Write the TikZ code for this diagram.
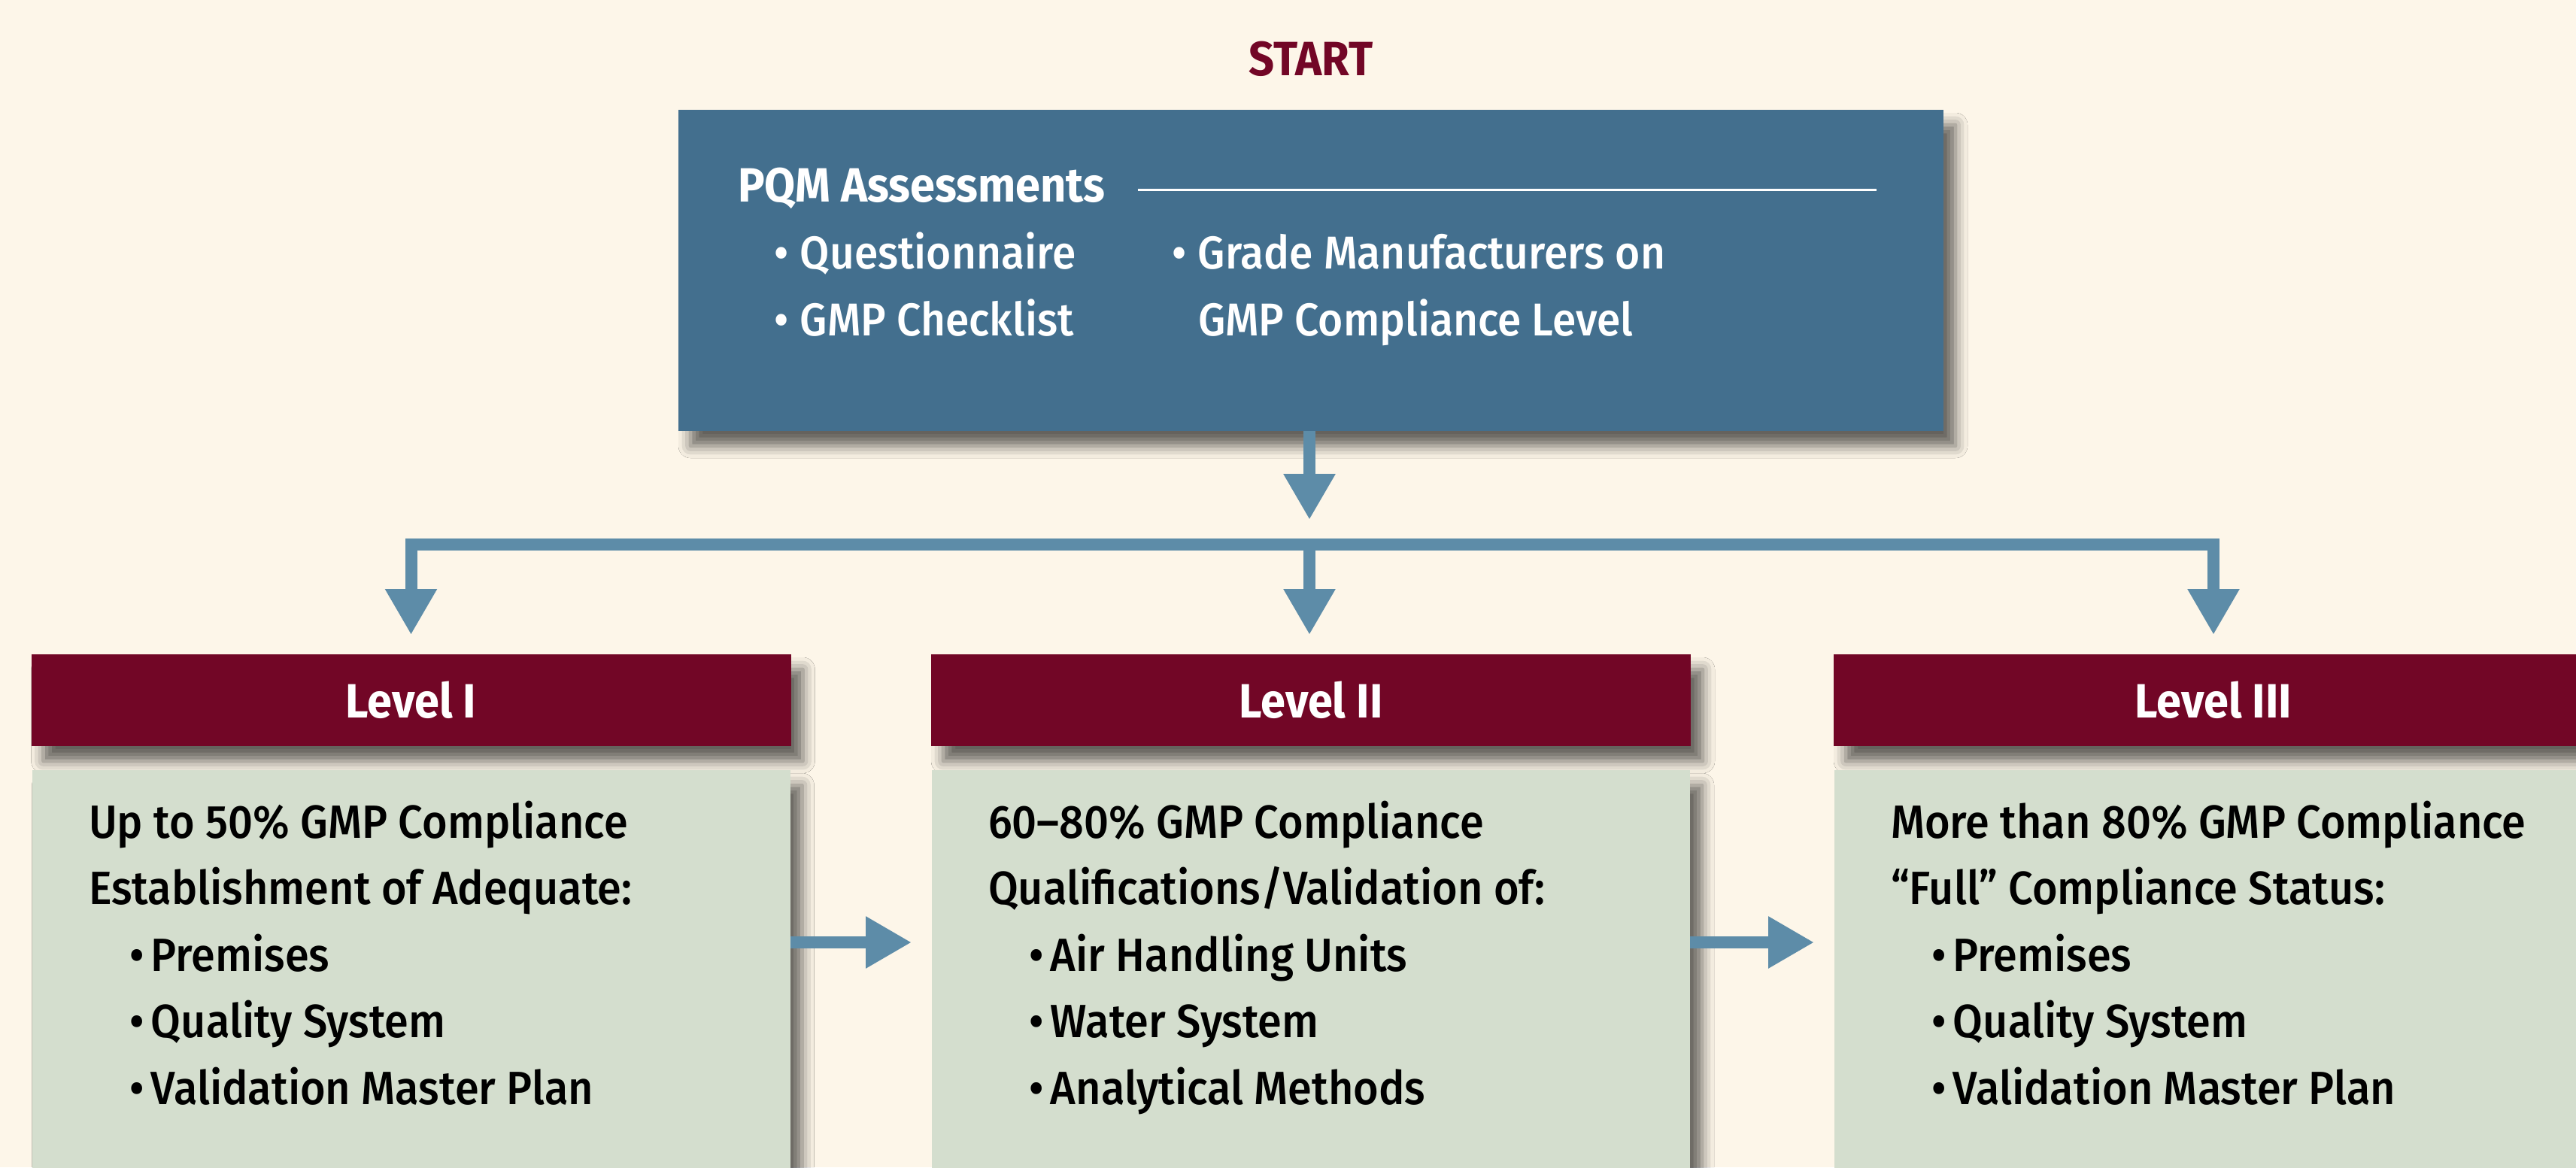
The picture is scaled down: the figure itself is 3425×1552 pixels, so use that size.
\documentclass[tikz,border=0pt]{standalone}
\usepackage{fontspec}
\setmainfont{Fira Sans}[FakeStretch=0.93, UprightFont={Fira Sans Medium}, BoldFont={Fira Sans Bold}]
\usetikzlibrary{arrows.meta,positioning,shadows.blur}
\definecolor{cream}{HTML}{FDF6E9}
\definecolor{steel}{HTML}{436F8E}
\definecolor{maroon}{HTML}{720626}
\definecolor{sage}{HTML}{D4DECE}
\definecolor{arrowblue}{HTML}{5D8CA8}
\newcommand\bul{\makebox[8.75pt][l]{•}}
\newcommand\itm[1]{\hspace*{13.5pt}\makebox[7.25pt][l]{•}#1}
\tikzset{
  box/.style={rectangle, inner sep=0pt, outer sep=0pt,
    blur shadow={shadow xshift=4pt, shadow yshift=-5pt, shadow blur radius=4pt, shadow opacity=60}},
  levelhead/.style={box, fill=maroon, minimum width=252.5pt, minimum height=30.5pt,
    text=white, font=\bfseries\fontsize{16}{19}\selectfont},
  levelbody/.style={box, fill=sage, minimum width=252pt, minimum height=150pt},
  bodytext/.style={anchor=base west, inner sep=0pt, outer sep=0pt, align=left,
    font=\fontsize{15.5}{22.1}\selectfont},
  flow/.style={draw=arrowblue, line width=4pt, >={Triangle[length=15.25pt,width=16.25pt]}},
}
\begin{document}
\begin{tikzpicture}[x=0.25pt,y=-0.25pt]
  \useasboundingbox[fill=cream] (0,0) rectangle (3425,1552);
  % top: assessments
  \node[anchor=base, text=maroon, font=\bfseries\fontsize{16}{19}\selectfont] (start) at (1743,100) {START};
  \node[box, fill=steel, minimum width=420.5pt, minimum height=106.75pt] (pqm) at (1743,359.5) {};
  \node[bodytext, text=white, font=\bfseries\fontsize{16}{22.1}\selectfont] (pqmhead) at (981,268) {PQM Assessments};
  \coordinate (ruleend) at (2495,252);
  \draw[white, line width=0.75pt] ([xshift=10.75pt]pqmhead.east |- ruleend) -- (ruleend);
  % base of a multi-line node = its last line
  \node[bodytext, text=white, font=\fontsize{15.3}{22.25}\selectfont] (pqmleft) at (1029,446)
    {\bul Questionnaire\\\bul GMP Checklist};
  \node[bodytext, text=white, font=\fontsize{15.3}{22.25}\selectfont] (pqmright) at (1558,446)
    {\bul Grade Manufacturers on\\\hspace*{8.75pt}GMP Compliance Level};
  % levels
  \node[levelhead] (lvlI) at (546.5,931) {Level I};
  \node[levelhead] (lvlII) at (1743,931) {Level II};
  \node[levelhead] (lvlIII) at (2943,931) {Level III};
  \node[levelbody, below=8pt of lvlI] (lvlIbody) {};
  \node[levelbody, below=8pt of lvlII] (lvlIIbody) {};
  \node[levelbody, below=8pt of lvlIII] (lvlIIIbody) {};
  \node[bodytext] (lvlItext) at (118,1468)
    {Up to 50\% GMP Compliance\\Establishment of Adequate:\\\itm{Premises}\\\itm{Quality System}\\\itm{Validation Master Plan}};
  \node[bodytext] (lvlIItext) at (1314,1468)
    {60–80\% GMP Compliance\\Qualifications/Validation of:\\\itm{Air Handling Units}\\\itm{Water System}\\\itm{Analytical Methods}};
  \node[bodytext] (lvlIIItext) at (2514,1468)
    {More than 80\% GMP Compliance\\“Full” Compliance Status:\\\itm{Premises}\\\itm{Quality System}\\\itm{Validation Master Plan}};
  % arrows
  \coordinate (bar) at (1741,724);
  \coordinate (side) at (0,1253);
  \draw[flow, ->, shorten >=8.25pt] (pqm.south -| bar) -- (bar);
  \draw[flow, <->, shorten <=6.5pt, shorten >=6.5pt] (lvlI.north) |- (bar) -| (lvlIII.north);
  \draw[flow, ->, shorten >=6.5pt] (bar) -- (lvlII.north -| bar);
  \draw[flow, ->, shorten >=6.75pt] (lvlIbody.east |- side) -- (lvlIIbody.west |- side);
  \draw[flow, ->, shorten >=6.75pt] (lvlIIbody.east |- side) -- (lvlIIIbody.west |- side);
\end{tikzpicture}
\end{document}
